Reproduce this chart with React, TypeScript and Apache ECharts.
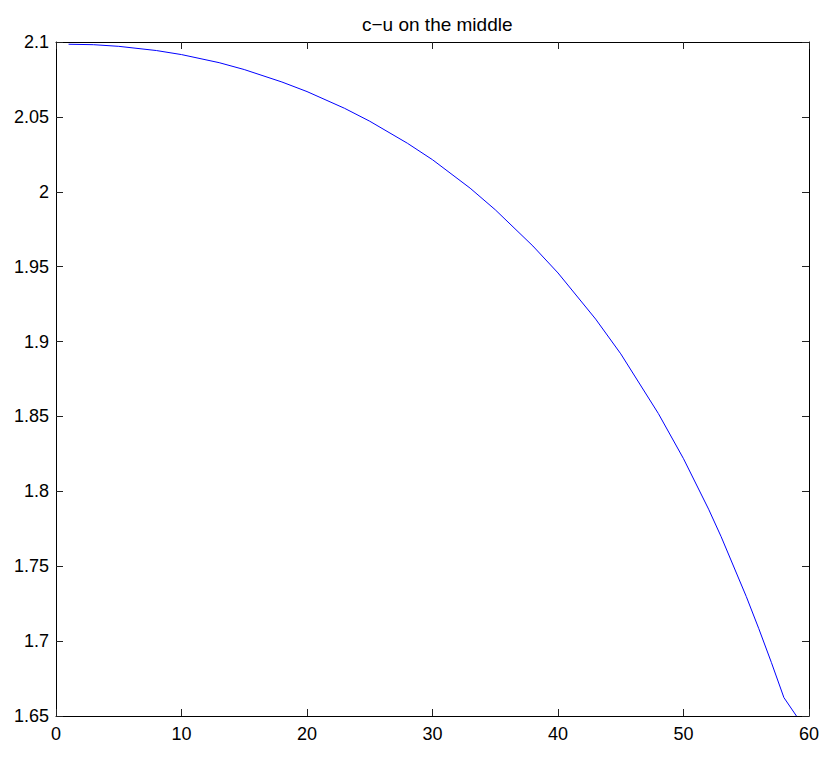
import React, { useEffect, useRef } from "react";
import * as echarts from "echarts";

const titleText = "c\u2212u on the middle";
const xValues = [1, 3, 5, 8, 10, 13, 15, 18, 20, 23, 25, 28, 30, 33, 35, 38, 40, 43, 45, 48, 50, 52, 53, 55, 56, 57, 58, 59];
const yValues = [2.0985, 2.0982, 2.0971, 2.0943, 2.0916, 2.0862, 2.0816, 2.0733, 2.0669, 2.0557, 2.0471, 2.0324, 2.0214, 2.0024, 1.988, 1.9638, 1.9458, 1.915, 1.8918, 1.8519, 1.8218, 1.7881, 1.7697, 1.7298, 1.7083, 1.6858, 1.6623, 1.65];
const xTicks = { min: 0, max: 60, interval: 10 };
const yTicks = { min: 1.65, max: 2.1, interval: 0.05 };

export default function App() {
  const ref = useRef<HTMLDivElement>(null);
  useEffect(() => {
    if (!ref.current) return;
    const chart = echarts.init(ref.current, null, { renderer: "svg" });
    const font = "'Liberation Sans', Arial, Helvetica, sans-serif";
    const axisCommon = {
      axisLine: { show: true, onZero: false, lineStyle: { color: "#000", width: 1 } },
      axisTick: { show: true, inside: true, length: 7, lineStyle: { color: "#222", width: 1 } },
      splitLine: { show: false },
    };
    const yFmt = (v: number) => String(Math.round(v * 100) / 100);
    chart.setOption({
      animation: false,
      backgroundColor: "#fff",
      title: {
        text: titleText,
        left: 357,
        top: 10,
        textStyle: { fontFamily: font, fontSize: 19, fontWeight: "normal", color: "#000" },
      },
      grid: { left: 56, right: 22, top: 42, bottom: 44, containLabel: false },
      xAxis: [
        {
          type: "value",
          position: "bottom",
          min: xTicks.min,
          max: xTicks.max,
          interval: xTicks.interval,
          ...axisCommon,
          axisLabel: { show: true, color: "#000", fontFamily: font, fontSize: 18, margin: 9 },
        },
        {
          type: "value",
          position: "top",
          min: xTicks.min,
          max: xTicks.max,
          interval: xTicks.interval,
          ...axisCommon,
          axisLabel: { show: false },
        },
      ],
      yAxis: [
        {
          type: "value",
          position: "left",
          min: yTicks.min,
          max: yTicks.max,
          interval: yTicks.interval,
          ...axisCommon,
          axisLabel: { show: true, color: "#000", fontFamily: font, fontSize: 18, margin: 7, formatter: yFmt },
        },
        {
          type: "value",
          position: "right",
          min: yTicks.min,
          max: yTicks.max,
          interval: yTicks.interval,
          ...axisCommon,
          axisLabel: { show: false },
        },
      ],
      series: [
        {
          type: "line",
          data: xValues.map((x, i) => [x, yValues[i]]),
          smooth: false,
          showSymbol: false,
          symbol: "none",
          lineStyle: { color: "#0000ff", width: 1 },
          xAxisIndex: 0,
          yAxisIndex: 0,
          clip: true,
        },
      ],
    });
    return () => chart.dispose();
  }, []);
  return (
    <div
      ref={ref}
      style={{ position: "fixed", left: 0, top: 0, width: 831, height: 760 }}
    />
  );
}
